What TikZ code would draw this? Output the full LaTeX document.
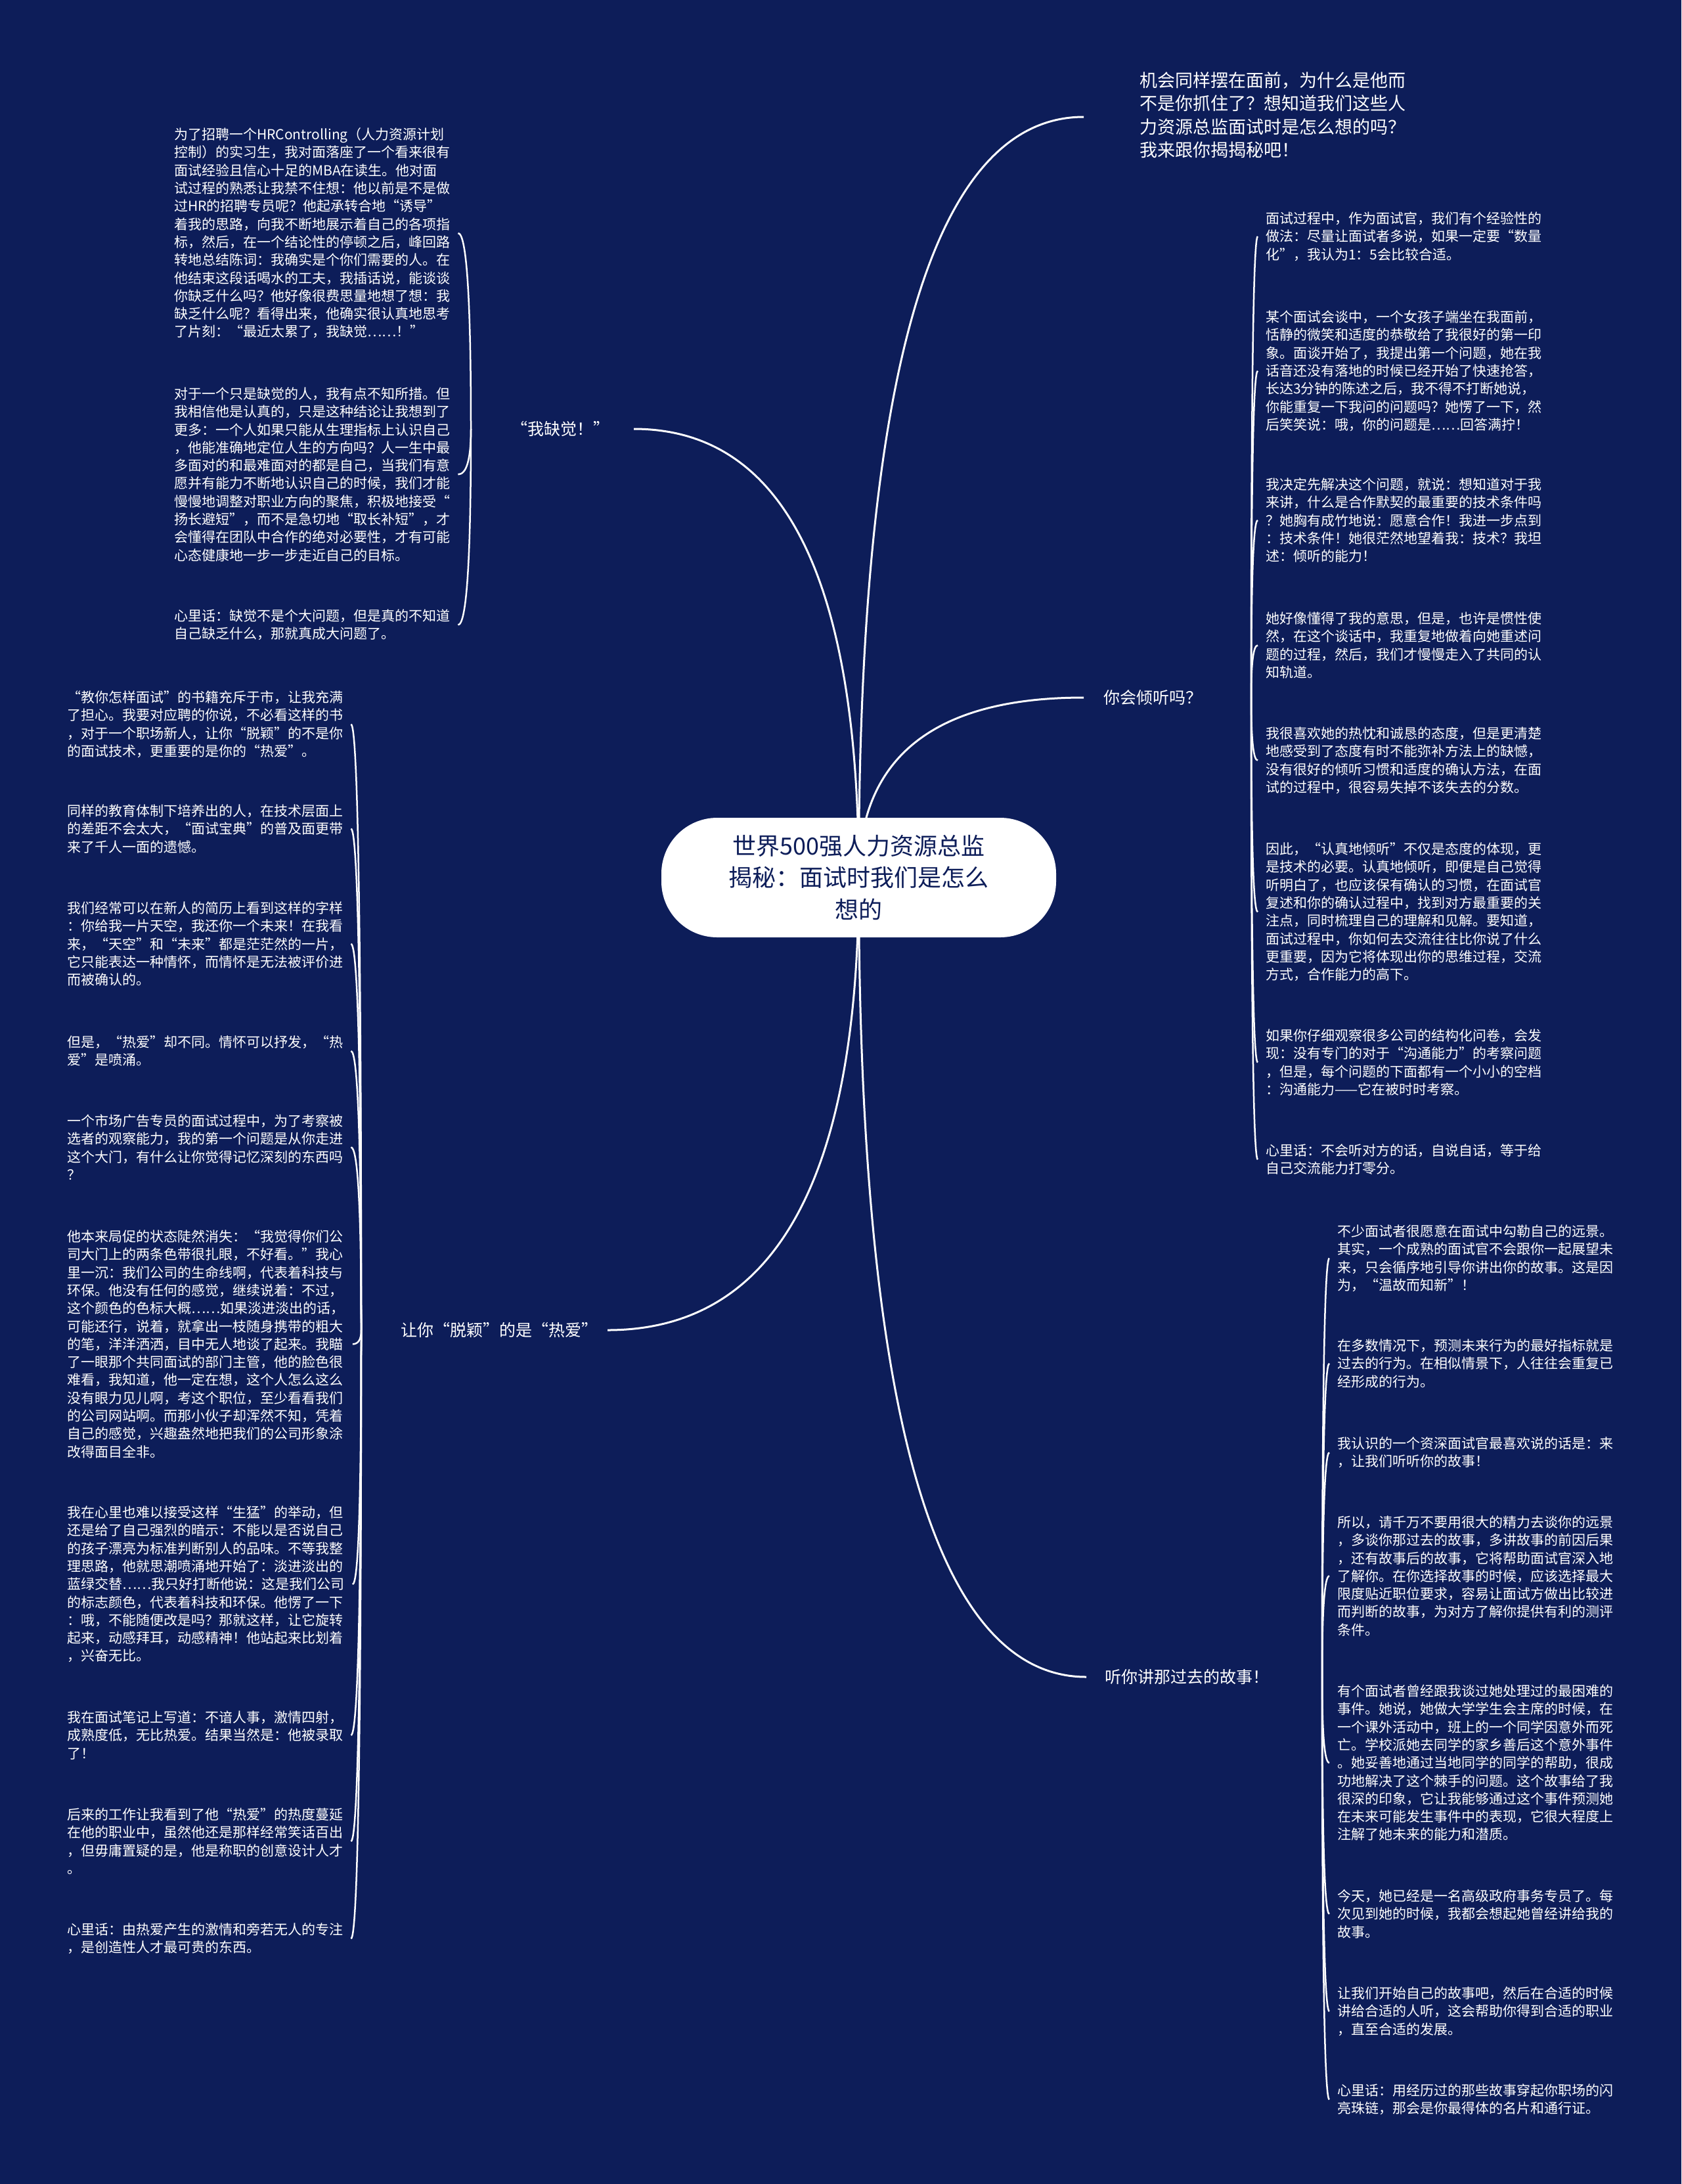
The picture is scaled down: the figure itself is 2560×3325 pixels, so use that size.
\documentclass[tikz,border=0pt]{standalone}
\usepackage{fontspec}
\setmainfont{Noto Sans CJK SC}
\usetikzlibrary{calc}
\definecolor{bgblue}{RGB}{13,29,89}
\pgfdeclarelayer{back}
\pgfdeclarelayer{edges}
\pgfsetlayers{back,edges,main}
\tikzset{
  leafnode/.style={anchor=north west, inner xsep=12pt, inner ysep=0pt, align=left, text=white, font=\fontsize{21}{27.3}\selectfont},
  introstyle/.style={anchor=north west, inner sep=0pt, align=left, text=white, font=\fontsize{27}{35.4}\selectfont},
  branchnode/.style={inner sep=0pt, text=white, font=\fontsize{25}{30}\selectfont},
  rootnode/.style={fill=white, rounded corners=85pt, minimum width=601pt, minimum height=182pt, align=center, text=bgblue, font=\fontsize{36}{48.8}\selectfont, inner sep=0pt},
  link/.style={draw=white, line width=3pt},
  twig/.style={draw=white, line width=2.5pt},
}
\newcommand{\qlink}[3]{%
  \coordinate (qctl) at (#2 |- #3);
  \draw[#1] (#2) .. controls ($(#2)!0.6667!(qctl)$) and ($(#3)!0.6667!(qctl)$) .. (#3);
}
\begin{document}
\begin{tikzpicture}[x=1pt,y=-1pt]
\begin{pgfonlayer}{back}
\fill[bgblue] (0,0) rectangle (2560,3325);
\end{pgfonlayer}
\useasboundingbox (0,0) rectangle (2560,3325);

% root
\node[rootnode] (root) at (1307.5,1336) {世界500强人力资源总监\\揭秘：面试时我们是怎么\\想的};

% intro
\node[introstyle] (intro) at (1735,109.5) {机会同样摆在面前，为什么是他而\\不是你抓住了？想知道我们这些人\\力资源总监面试时是怎么想的吗？\\我来跟你揭揭秘吧！};

% branches
\node[branchnode] (b1) at (853,653) {“我缺觉！”};
\node[branchnode] (b2) at (760,2025) {让你“脱颖”的是“热爱”};
\node[branchnode] (b3) at (1755,1062) {你会倾听吗？};
\node[branchnode] (b4) at (1807,2553) {听你讲那过去的故事！};

\coordinate (introin) at (1650,178);
\coordinate (b1in) at (965,653);
\coordinate (b1out) at (717,653);
\coordinate (b2in) at (925,2025);
\coordinate (b2out) at (550,2025);
\coordinate (b3in) at (1650,1062);
\coordinate (b3out) at (1905,1062);
\coordinate (b4in) at (1654,2553);
\coordinate (b4out) at (2013,2553);

% left top leaves
\node[leafnode] (lt1) at (253,194.5) {为了招聘一个HRControlling（人力资源计划\\控制）的实习生，我对面落座了一个看来很有\\面试经验且信心十足的MBA在读生。他对面\\试过程的熟悉让我禁不住想：他以前是不是做\\过HR的招聘专员呢？他起承转合地“诱导”\\着我的思路，向我不断地展示着自己的各项指\\标，然后，在一个结论性的停顿之后，峰回路\\转地总结陈词：我确实是个你们需要的人。在\\他结束这段话喝水的工夫，我插话说，能谈谈\\你缺乏什么吗？他好像很费思量地想了想：我\\缺乏什么呢？看得出来，他确实很认真地思考\\了片刻：“最近太累了，我缺觉……！”};
\node[leafnode] (lt2) at (253,589.5) {对于一个只是缺觉的人，我有点不知所措。但\\我相信他是认真的，只是这种结论让我想到了\\更多：一个人如果只能从生理指标上认识自己\\，他能准确地定位人生的方向吗？人一生中最\\多面对的和最难面对的都是自己，当我们有意\\愿并有能力不断地认识自己的时候，我们才能\\慢慢地调整对职业方向的聚焦，积极地接受“\\扬长避短”，而不是急切地“取长补短”，才\\会懂得在团队中合作的绝对必要性，才有可能\\心态健康地一步一步走近自己的目标。};
\node[leafnode] (lt3) at (253,927.5) {心里话：缺觉不是个大问题，但是真的不知道\\自己缺乏什么，那就真成大问题了。};

% left bottom leaves
\node[leafnode] (lb1) at (90,1051.5) {“教你怎样面试”的书籍充斥于市，让我充满\\了担心。我要对应聘的你说，不必看这样的书\\，对于一个职场新人，让你“脱颖”的不是你\\的面试技术，更重要的是你的“热爱”。};
\node[leafnode] (lb2) at (90,1224.5) {同样的教育体制下培养出的人，在技术层面上\\的差距不会太大，“面试宝典”的普及面更带\\来了千人一面的遗憾。};
\node[leafnode] (lb3) at (90,1372.5) {我们经常可以在新人的简历上看到这样的字样\\：你给我一片天空，我还你一个未来！在我看\\来，“天空”和“未来”都是茫茫然的一片，\\它只能表达一种情怀，而情怀是无法被评价进\\而被确认的。};
\node[leafnode] (lb4) at (90,1576.5) {但是，“热爱”却不同。情怀可以抒发，“热\\爱”是喷涌。};
\node[leafnode] (lb5) at (90,1696.5) {一个市场广告专员的面试过程中，为了考察被\\选者的观察能力，我的第一个问题是从你走进\\这个大门，有什么让你觉得记忆深刻的东西吗\\？};
\node[leafnode] (lb6) at (90,1872.5) {他本来局促的状态陡然消失：“我觉得你们公\\司大门上的两条色带很扎眼，不好看。”我心\\里一沉：我们公司的生命线啊，代表着科技与\\环保。他没有任何的感觉，继续说着：不过，\\这个颜色的色标大概……如果淡进淡出的话，\\可能还行，说着，就拿出一枝随身携带的粗大\\的笔，洋洋洒洒，目中无人地谈了起来。我瞄\\了一眼那个共同面试的部门主管，他的脸色很\\难看，我知道，他一定在想，这个人怎么这么\\没有眼力见儿啊，考这个职位，至少看看我们\\的公司网站啊。而那小伙子却浑然不知，凭着\\自己的感觉，兴趣盎然地把我们的公司形象涂\\改得面目全非。};
\node[leafnode] (lb7) at (90,2292.5) {我在心里也难以接受这样“生猛”的举动，但\\还是给了自己强烈的暗示：不能以是否说自己\\的孩子漂亮为标准判断别人的品味。不等我整\\理思路，他就思潮喷涌地开始了：淡进淡出的\\蓝绿交替……我只好打断他说：这是我们公司\\的标志颜色，代表着科技和环保。他愣了一下\\：哦，不能随便改是吗？那就这样，让它旋转\\起来，动感拜耳，动感精神！他站起来比划着\\，兴奋无比。};
\node[leafnode] (lb8) at (90,2604.5) {我在面试笔记上写道：不谙人事，激情四射，\\成熟度低，无比热爱。结果当然是：他被录取\\了！};
\node[leafnode] (lb9) at (90,2752.5) {后来的工作让我看到了他“热爱”的热度蔓延\\在他的职业中，虽然他还是那样经常笑话百出\\，但毋庸置疑的是，他是称职的创意设计人才\\。};
\node[leafnode] (lb10) at (90,2927.5) {心里话：由热爱产生的激情和旁若无人的专注\\，是创造性人才最可贵的东西。};

% right section 1 leaves
\node[leafnode] (r1) at (1915,322.5) {面试过程中，作为面试官，我们有个经验性的\\做法：尽量让面试者多说，如果一定要“数量\\化”，我认为1：5会比较合适。};
\node[leafnode] (r2) at (1915,472.5) {某个面试会谈中，一个女孩子端坐在我面前，\\恬静的微笑和适度的恭敬给了我很好的第一印\\象。面谈开始了，我提出第一个问题，她在我\\话音还没有落地的时候已经开始了快速抢答，\\长达3分钟的陈述之后，我不得不打断她说，\\你能重复一下我问的问题吗？她愣了一下，然\\后笑笑说：哦，你的问题是……回答满拧！};
\node[leafnode] (r3) at (1915,727.5) {我决定先解决这个问题，就说：想知道对于我\\来讲，什么是合作默契的最重要的技术条件吗\\？她胸有成竹地说：愿意合作！我进一步点到\\：技术条件！她很茫然地望着我：技术？我坦\\述：倾听的能力！};
\node[leafnode] (r4) at (1915,931.5) {她好像懂得了我的意思，但是，也许是惯性使\\然，在这个谈话中，我重复地做着向她重述问\\题的过程，然后，我们才慢慢走入了共同的认\\知轨道。};
\node[leafnode] (r5) at (1915,1106.5) {我很喜欢她的热忱和诚恳的态度，但是更清楚\\地感受到了态度有时不能弥补方法上的缺憾，\\没有很好的倾听习惯和适度的确认方法，在面\\试的过程中，很容易失掉不该失去的分数。};
\node[leafnode] (r6) at (1915,1282.5) {因此，“认真地倾听”不仅是态度的体现，更\\是技术的必要。认真地倾听，即便是自己觉得\\听明白了，也应该保有确认的习惯，在面试官\\复述和你的确认过程中，找到对方最重要的关\\注点，同时梳理自己的理解和见解。要知道，\\面试过程中，你如何去交流往往比你说了什么\\更重要，因为它将体现出你的思维过程，交流\\方式，合作能力的高下。};
\node[leafnode] (r7) at (1915,1566.5) {如果你仔细观察很多公司的结构化问卷，会发\\现：没有专门的对于“沟通能力”的考察问题\\，但是，每个问题的下面都有一个小小的空档\\：沟通能力——它在被时时考察。};
\node[leafnode] (r8) at (1915,1741.5) {心里话：不会听对方的话，自说自话，等于给\\自己交流能力打零分。};

% right section 2 leaves
\node[leafnode] (s1) at (2024,1864.5) {不少面试者很愿意在面试中勾勒自己的远景。\\其实，一个成熟的面试官不会跟你一起展望未\\来，只会循序地引导你讲出你的故事。这是因\\为，“温故而知新”！};
\node[leafnode] (s2) at (2024,2038.5) {在多数情况下，预测未来行为的最好指标就是\\过去的行为。在相似情景下，人往往会重复已\\经形成的行为。};
\node[leafnode] (s3) at (2024,2187.5) {我认识的一个资深面试官最喜欢说的话是：来\\，让我们听听你的故事！};
\node[leafnode] (s4) at (2024,2307.5) {所以，请千万不要用很大的精力去谈你的远景\\，多谈你那过去的故事，多讲故事的前因后果\\，还有故事后的故事，它将帮助面试官深入地\\了解你。在你选择故事的时候，应该选择最大\\限度贴近职位要求，容易让面试方做出比较进\\而判断的故事，为对方了解你提供有利的测评\\条件。};
\node[leafnode] (s5) at (2024,2564.5) {有个面试者曾经跟我谈过她处理过的最困难的\\事件。她说，她做大学学生会主席的时候，在\\一个课外活动中，班上的一个同学因意外而死\\亡。学校派她去同学的家乡善后这个意外事件\\。她妥善地通过当地同学的同学的帮助，很成\\功地解决了这个棘手的问题。这个故事给了我\\很深的印象，它让我能够通过这个事件预测她\\在未来可能发生事件中的表现，它很大程度上\\注解了她未来的能力和潜质。};
\node[leafnode] (s6) at (2024,2876.5) {今天，她已经是一名高级政府事务专员了。每\\次见到她的时候，我都会想起她曾经讲给我的\\故事。};
\node[leafnode] (s7) at (2024,3024.5) {让我们开始自己的故事吧，然后在合适的时候\\讲给合适的人听，这会帮助你得到合适的职业\\，直至合适的发展。};
\node[leafnode] (s8) at (2024,3172.5) {心里话：用经历过的那些故事穿起你职场的闪\\亮珠链，那会是你最得体的名片和通行证。};

\begin{pgfonlayer}{edges}
% root to branches
\qlink{link}{root.center}{introin}
\qlink{link}{root.center}{b1in}
\qlink{link}{root.center}{b2in}
\qlink{link}{root.center}{b3in}
\qlink{link}{root.center}{b4in}
% branch 1
\foreach \l in {lt1,lt2,lt3} {\qlink{twig}{b1out}{\l.east}}
% branch 2
\foreach \l in {lb1,lb2,lb3,lb4,lb5,lb6,lb7,lb8,lb9,lb10} {\qlink{twig}{b2out}{\l.east}}
% branch 3
\foreach \l in {r1,r2,r3,r4,r5,r6,r7,r8} {\qlink{twig}{b3out}{\l.west}}
% branch 4
\foreach \l in {s1,s2,s3,s4,s5,s6,s7,s8} {\qlink{twig}{b4out}{\l.west}}
\end{pgfonlayer}
\end{tikzpicture}
\end{document}
